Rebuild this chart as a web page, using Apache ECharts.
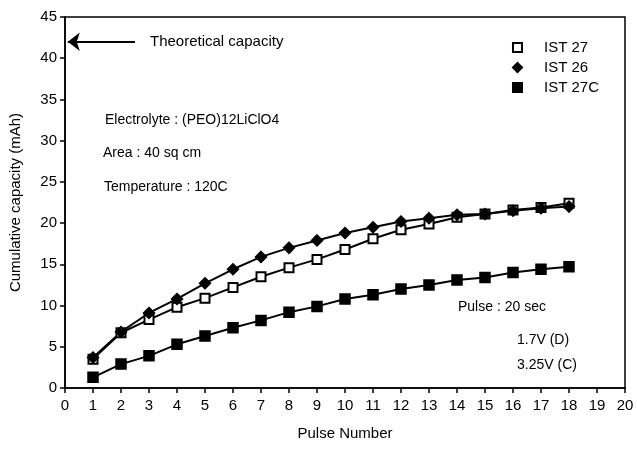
<!DOCTYPE html>
<html>
<head>
<meta charset="utf-8">
<script src="https://cdn.jsdelivr.net/npm/echarts@6/dist/echarts.min.js"></script>
<style>
  html, body { margin: 0; padding: 0; background: #fff; }
  #chart { width: 637px; height: 451px; }
</style>
</head>
<body>
<div id="chart"></div>
<script>
const pulses = [1, 2, 3, 4, 5, 6, 7, 8, 9, 10, 11, 12, 13, 14, 15, 16, 17, 18]
const ist27 = [3.5, 6.7, 8.3, 9.8, 10.9, 12.2, 13.5, 14.6, 15.6, 16.8, 18.1, 19.2, 19.9, 20.7, 21.1, 21.6, 21.9, 22.4]
const ist26 = [3.7, 6.8, 9.1, 10.8, 12.7, 14.4, 15.9, 17.0, 17.9, 18.8, 19.5, 20.2, 20.6, 21.0, 21.1, 21.5, 21.8, 22.0]
const ist27c = [1.3, 2.9, 3.9, 5.3, 6.3, 7.3, 8.2, 9.2, 9.9, 10.8, 11.3, 12.0, 12.5, 13.1, 13.4, 14.0, 14.4, 14.7]
const theoretical = 42

const font = 'Liberation Sans, Arial, sans-serif'
const pair = (ys) => pulses.map((x, i) => [x, ys[i]])

const chart = echarts.init(document.getElementById('chart'))

function lineSeries(name, ys, symbol, size) {
  return {
    name,
    type: 'line',
    data: pair(ys),
    symbol,
    symbolSize: size,
    showAllSymbol: true,
    lineStyle: { color: '#000', width: 2 },
    itemStyle: { color: '#000', borderColor: '#000', borderWidth: 1.5 },
    emphasis: { disabled: true },
    animation: false,
  }
}

chart.setOption({
  backgroundColor: '#fff',
  grid: {
    left: 65, right: 12, top: 17, bottom: 63,
    show: true, borderColor: '#000', borderWidth: 1.5,
  },
  legend: {
    right: 33, top: 35, orient: 'vertical', itemGap: 5,
    itemWidth: 9, itemHeight: 9,
    textStyle: { fontFamily: font, fontSize: 15, color: '#000', padding: [0, 0, 0, 17] },
    data: [
      { name: 'IST 27', icon: 'emptyRect' },
      { name: 'IST 26', icon: 'diamond' },
      { name: 'IST 27C', icon: 'rect' },
    ],
  },
  xAxis: {
    type: 'value', min: 0, max: 20, interval: 1,
    name: 'Pulse Number', nameLocation: 'middle', nameGap: 38,
    nameTextStyle: { fontFamily: font, fontSize: 15, color: '#000' },
    axisLine: { lineStyle: { color: '#000', width: 1.5 } },
    axisTick: { lineStyle: { color: '#000', width: 1.5 }, length: 5 },
    axisLabel: { fontFamily: font, fontSize: 15, color: '#000', margin: 10 },
    splitLine: { show: false },
  },
  yAxis: {
    type: 'value', min: 0, max: 45, interval: 5,
    name: 'Cumulative capacity (mAh)', nameLocation: 'middle', nameGap: 42,
    nameTextStyle: { fontFamily: font, fontSize: 15, color: '#000' },
    axisLine: { show: true, lineStyle: { color: '#000', width: 1.5 } },
    axisTick: { show: true, lineStyle: { color: '#000', width: 1.5 }, length: 5 },
    axisLabel: { fontFamily: font, fontSize: 15, color: '#000', margin: 8 },
    splitLine: { show: false },
  },
  series: [
    lineSeries('IST 27', ist27, 'emptyRect', 9),
    lineSeries('IST 26', ist26, 'diamond', 11),
    lineSeries('IST 27C', ist27c, 'rect', 10),
    {
      type: 'line', data: [], silent: true,
      markLine: {
        silent: true, animation: false,
        lineStyle: { color: '#000', width: 2, type: 'solid' },
        label: { show: false },
        symbolSize: [14, 12],
        data: [[
          { coord: [2.5, theoretical], symbol: 'none' },
          { coord: [0.1, theoretical], symbol: 'arrow' },
        ]],
      },
    },
  ],
  graphic: [
    { type: 'text', left: 150, top: 34, style: { text: 'Theoretical capacity', font: '15px ' + font, fill: '#000' } },
    { type: 'text', left: 105, top: 113, style: { text: 'Electrolyte : (PEO)12LiClO4', font: '14px ' + font, fill: '#000' } },
    { type: 'text', left: 103, top: 146, style: { text: 'Area : 40 sq cm', font: '14px ' + font, fill: '#000' } },
    { type: 'text', left: 104, top: 180, style: { text: 'Temperature : 120C', font: '14px ' + font, fill: '#000' } },
    { type: 'text', left: 458, top: 300, style: { text: 'Pulse : 20 sec', font: '14px ' + font, fill: '#000' } },
    { type: 'text', left: 517, top: 333, style: { text: '1.7V (D)', font: '14px ' + font, fill: '#000' } },
    { type: 'text', left: 517, top: 358, style: { text: '3.25V (C)', font: '14px ' + font, fill: '#000' } },
  ],
})
</script>
</body>
</html>
